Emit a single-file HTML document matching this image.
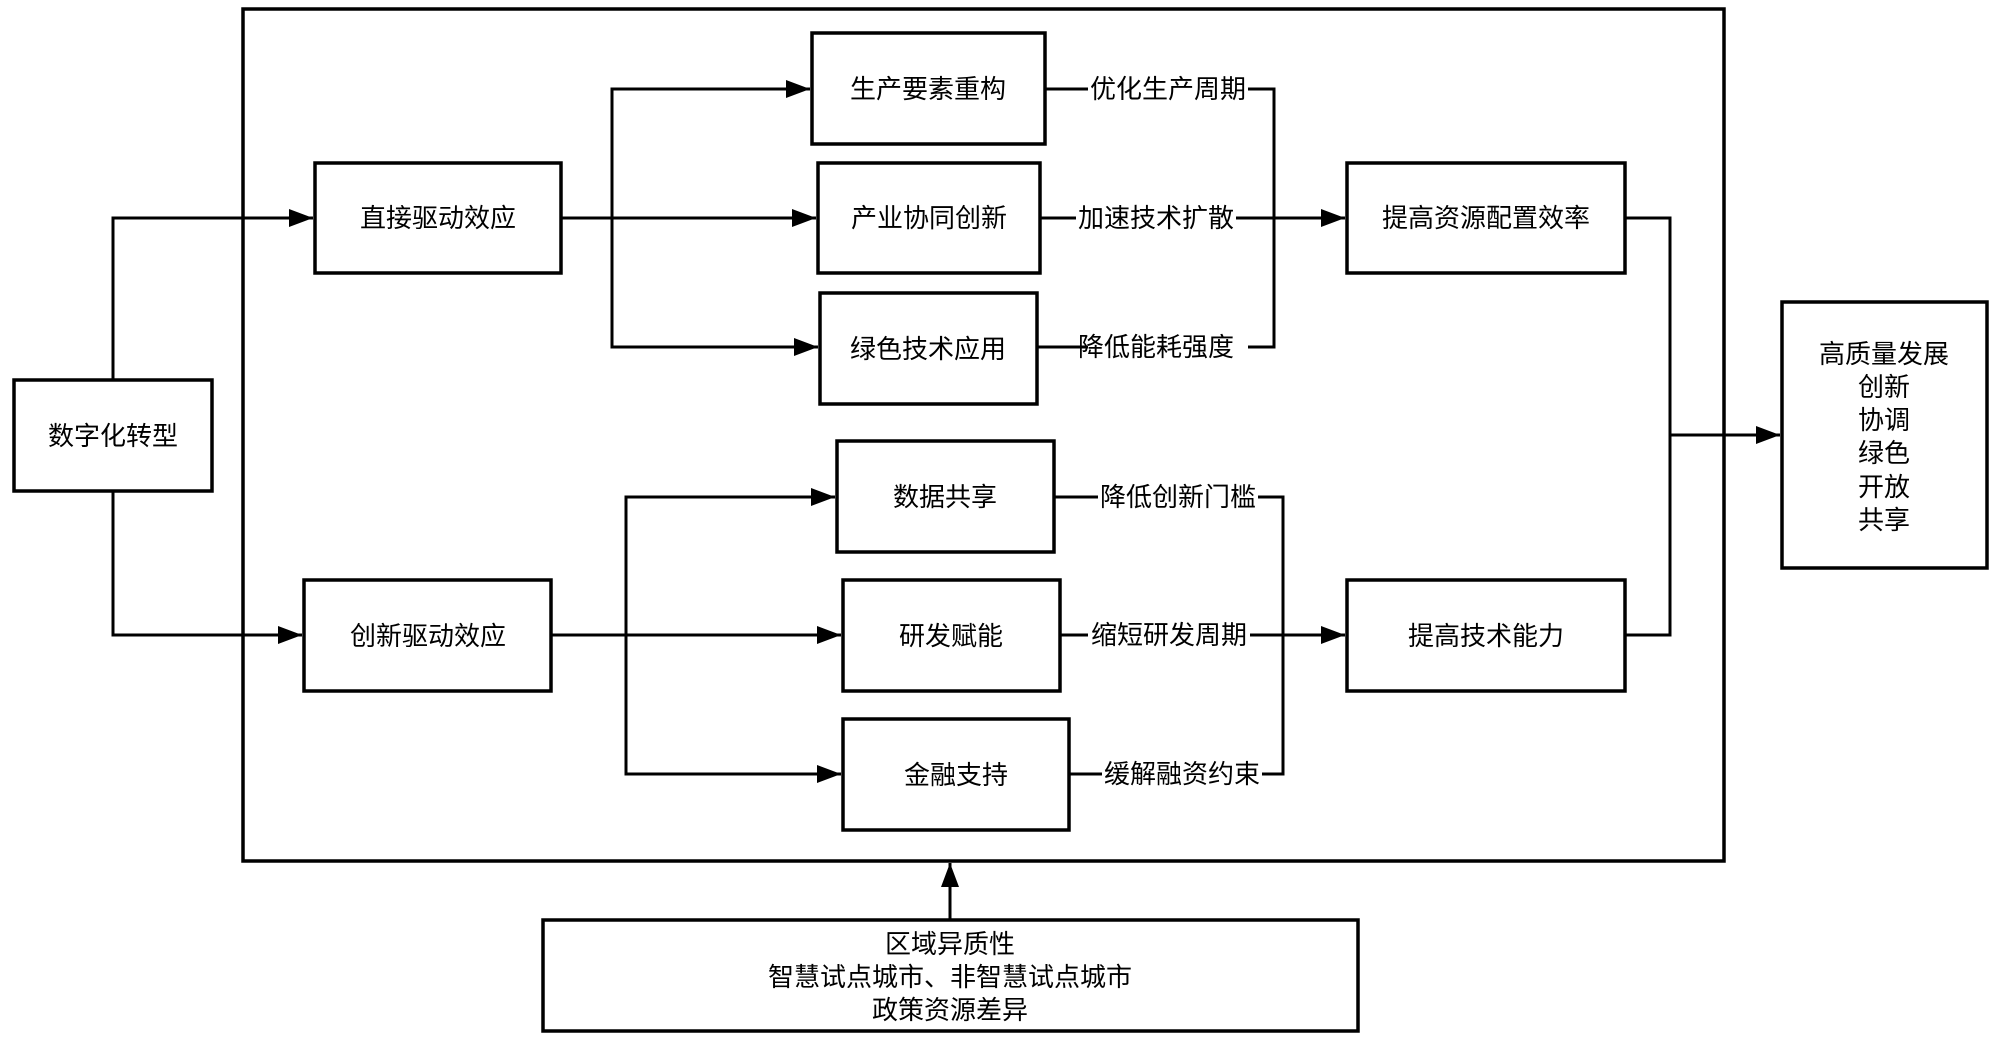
<!DOCTYPE html>
<html><head><meta charset="utf-8"><style>
body{margin:0;background:#fff;}
svg{display:block}
text{font-family:"Liberation Sans","Noto Sans CJK SC",sans-serif;font-size:26px;fill:#000;}
</style></head><body>
<svg width="2000" height="1040" viewBox="0 0 2000 1040" xmlns="http://www.w3.org/2000/svg">
<defs><marker id="a" markerWidth="8" markerHeight="6" refX="8" refY="3" orient="auto" markerUnits="strokeWidth"><path d="M0,0 L8,3 L0,6 Z" fill="#000"/></marker></defs>
<g fill="none" stroke="#000" stroke-width="3.5">
<rect x="243" y="9" width="1481" height="852"/>
<rect x="14" y="380" width="198" height="111"/>
<rect x="315" y="163" width="246" height="110"/>
<rect x="304" y="580" width="247" height="111"/>
<rect x="812" y="33" width="233" height="111"/>
<rect x="818" y="163" width="222" height="110"/>
<rect x="820" y="293" width="217" height="111"/>
<rect x="837" y="441" width="217" height="111"/>
<rect x="843" y="580" width="217" height="111"/>
<rect x="843" y="719" width="226" height="111"/>
<rect x="1347" y="163" width="278" height="110"/>
<rect x="1347" y="580" width="278" height="111"/>
<rect x="1782" y="302" width="205" height="266"/>
<rect x="543" y="920" width="815" height="111"/>
</g>
<g fill="none" stroke="#000" stroke-width="3">
<path d="M113,380 V218 H313" marker-end="url(#a)"/>
<path d="M113,491 V635 H302" marker-end="url(#a)"/>
<path d="M561,218 H816" marker-end="url(#a)"/>
<path d="M612,218 V89 H810" marker-end="url(#a)"/>
<path d="M612,218 V347 H818" marker-end="url(#a)"/>
<path d="M551,635 H841" marker-end="url(#a)"/>
<path d="M626,635 V497 H835" marker-end="url(#a)"/>
<path d="M626,635 V774 H841" marker-end="url(#a)"/>
<path d="M1045,89 H1088 M1248,89 H1274 V347 H1248 M1088,347 H1037"/>
<path d="M1040,218 H1076 M1236,218 H1345" marker-end="url(#a)"/>
<path d="M1054,497 H1098 M1258,497 H1283 V774 H1262 M1102,774 H1069"/>
<path d="M1060,635 H1088 M1250,635 H1345" marker-end="url(#a)"/>
<path d="M1625,218 H1670 V635 H1625"/>
<path d="M1670,435 H1780" marker-end="url(#a)"/>
<path d="M950,920 V863" marker-end="url(#a)"/>
</g>
<g text-anchor="middle" dominant-baseline="central">
<text x="113" y="436">数字化转型</text>
<text x="438" y="218">直接驱动效应</text>
<text x="428" y="636">创新驱动效应</text>
<text x="928" y="89">生产要素重构</text>
<text x="929" y="218">产业协同创新</text>
<text x="928" y="349">绿色技术应用</text>
<text x="945" y="497">数据共享</text>
<text x="951" y="636">研发赋能</text>
<text x="956" y="775">金融支持</text>
<text x="1168" y="89">优化生产周期</text>
<text x="1156" y="218">加速技术扩散</text>
<text x="1156" y="347">降低能耗强度</text>
<text x="1178" y="497">降低创新门槛</text>
<text x="1169" y="635">缩短研发周期</text>
<text x="1182" y="774">缓解融资约束</text>
<text x="1486" y="218">提高资源配置效率</text>
<text x="1486" y="636">提高技术能力</text>
<text x="1884" y="354">高质量发展</text>
<text x="1884" y="387">创新</text>
<text x="1884" y="420">协调</text>
<text x="1884" y="453">绿色</text>
<text x="1884" y="487">开放</text>
<text x="1884" y="520">共享</text>
<text x="950" y="944">区域异质性</text>
<text x="950" y="977">智慧试点城市、非智慧试点城市</text>
<text x="950" y="1010">政策资源差异</text>
</g>
</svg>
</body></html>
